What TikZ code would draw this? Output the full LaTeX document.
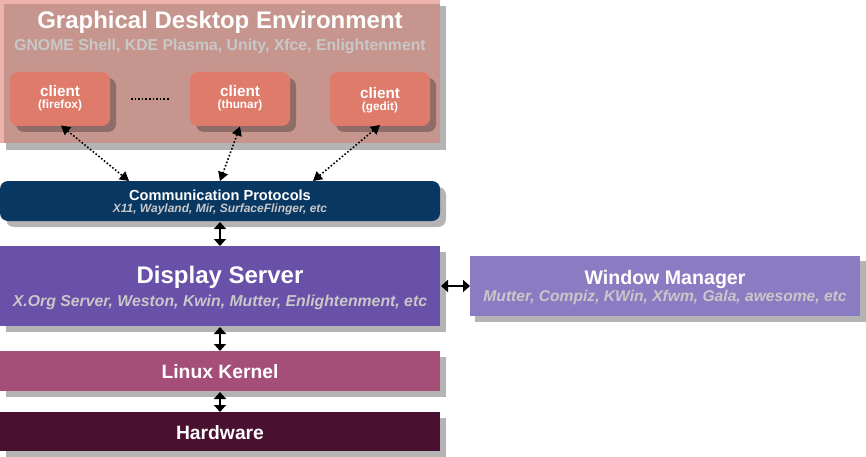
\documentclass[tikz,border=0pt]{standalone}
\usepackage{fontspec}
\setmainfont{Liberation Sans}
\usetikzlibrary{arrows.meta}
\definecolor{gdefill}{HTML}{C6958D}
\definecolor{gdeedge}{HTML}{EDB3AA}
\definecolor{clientfill}{HTML}{DE7B6A}
\definecolor{clientshadow}{HTML}{8F6C67}
\definecolor{shadowgray}{HTML}{B4B4B4}
\definecolor{commfill}{HTML}{083762}
\definecolor{dispfill}{HTML}{6950A8}
\definecolor{wmfill}{HTML}{8B7BC2}
\definecolor{kernfill}{HTML}{A54E78}
\definecolor{hwfill}{HTML}{4A1030}
\definecolor{subgray}{HTML}{C8C8C8}
\newcommand{\clienttext}[1]{{\fontsize{15.3}{16}\selectfont client}\\{\fontsize{11.8}{11.5}\selectfont #1}}
\begin{document}
\begin{tikzpicture}[x=1pt,y=-1pt,
  every node/.style={inner sep=0pt},
  ttl/.style={text=white},
  subttl/.style={text=subgray},
  clientlbl/.style={text=white, align=center, font=\bfseries},
  dotarrow/.style={line width=1.6pt, dotted, {Triangle[width=10pt,length=9pt]}-{Triangle[width=10pt,length=9pt]}},
  solidarrow/.style={line width=2pt, {Triangle[width=12pt,length=7pt]}-{Triangle[width=12pt,length=7pt]}}
]
\useasboundingbox (0,0) rectangle (866,457);
% ---------- GDE ----------
\fill[shadowgray] (6,6) rectangle (446,150);
\fill[gdefill] (0,0) rectangle (440,143);
\fill[gdeedge] (0,0) rectangle (440,4);
\fill[gdeedge] (0,0) rectangle (4,143);
\node[ttl, font=\fontsize{24}{26}\selectfont\bfseries] (gdet) at (220,22.5) {Graphical Desktop Environment};
\node[subttl, font=\fontsize{15.8}{17}\selectfont\bfseries] (gdes) at (220,46.5) {GNOME Shell, KDE Plasma, Unity, Xfce, Enlightenment};
% clients
\foreach \cx/\nm in {10/c1,190/c2,330/c3}{
  \fill[clientshadow, rounded corners=8pt] (\cx+6,78) rectangle (\cx+106,132);
  \fill[clientfill, rounded corners=8pt] (\cx,72) rectangle (\cx+100,126);
  \coordinate (\nm) at (\cx+50,99);
}
\node[clientlbl] (c1l) at (60,98.5) {\clienttext{(firefox)}};
\node[clientlbl] (c2l) at (240,98.5) {\clienttext{(thunar)}};
\node[clientlbl] (c3l) at (380,100.5) {\clienttext{(gedit)}};
\coordinate (d1) at (131,99);
\coordinate (d2) at (170,99);
\draw[line width=1.6pt, dotted] (d1) -- (d2);
% ---------- Comm ----------
\fill[shadowgray, rounded corners=8pt] (6,187) rectangle (446,227);
\fill[commfill, rounded corners=8pt] (0,181) rectangle (440,221);
\node[ttl, font=\fontsize{14.6}{15}\selectfont\bfseries] (ct) at (220,195) {Communication Protocols};
\node[subttl, font=\fontsize{12}{13}\selectfont\bfseries\itshape] (cs) at (220,209) {X11, Wayland, Mir, SurfaceFlinger, etc};
% client arrows
\coordinate (a1s) at (61,125.5);
\coordinate (a1e) at (129,181);
\coordinate (a2s) at (240,126.5);
\coordinate (a2e) at (220,181);
\coordinate (a3s) at (380,125);
\coordinate (a3e) at (313,181);
\draw[dotarrow] (a1s) -- (a1e);
\draw[dotarrow] (a2s) -- (a2e);
\draw[dotarrow] (a3s) -- (a3e);
% ---------- Display ----------
\fill[shadowgray] (6,252) rectangle (446,332);
\fill[dispfill] (0,246) rectangle (440,326);
\node[ttl, font=\fontsize{24}{26}\selectfont\bfseries] (dt) at (220,277) {Display Server};
\node[subttl, font=\fontsize{15.8}{17}\selectfont\bfseries\itshape] (ds) at (220,302) {X.Org Server, Weston, Kwin, Mutter, Enlightenment, etc};
\coordinate (v1a) at (220,222);
\coordinate (v1b) at (220,246);
\draw[solidarrow] (v1a) -- (v1b);
% ---------- WM ----------
\fill[shadowgray] (475,261) rectangle (866,322);
\fill[wmfill] (470,256) rectangle (860,316);
\node[ttl, font=\fontsize{19.6}{21}\selectfont\bfseries] (wt) at (665,279) {Window Manager};
\node[subttl, font=\fontsize{15.6}{17}\selectfont\bfseries\itshape] (ws) at (665,297) {Mutter, Compiz, KWin, Xfwm, Gala, awesome, etc};
\coordinate (h1a) at (441,286);
\coordinate (h1b) at (470,286);
\draw[solidarrow] (h1a) -- (h1b);
% ---------- Kernel ----------
\fill[shadowgray] (6,357) rectangle (446,397);
\fill[kernfill] (0,351) rectangle (440,391);
\node[ttl, font=\fontsize{19.3}{21}\selectfont\bfseries] (kt) at (220,372) {Linux Kernel};
\coordinate (v2a) at (220,327);
\coordinate (v2b) at (220,351);
\draw[solidarrow] (v2a) -- (v2b);
% ---------- Hardware ----------
\fill[shadowgray] (6,418) rectangle (446,457);
\fill[hwfill] (0,412) rectangle (440,451);
\node[ttl, font=\fontsize{19.3}{21}\selectfont\bfseries] (ht) at (220,433) {Hardware};
\coordinate (v3a) at (220,392);
\coordinate (v3b) at (220,412);
\draw[solidarrow] (v3a) -- (v3b);
\end{tikzpicture}
\end{document}
